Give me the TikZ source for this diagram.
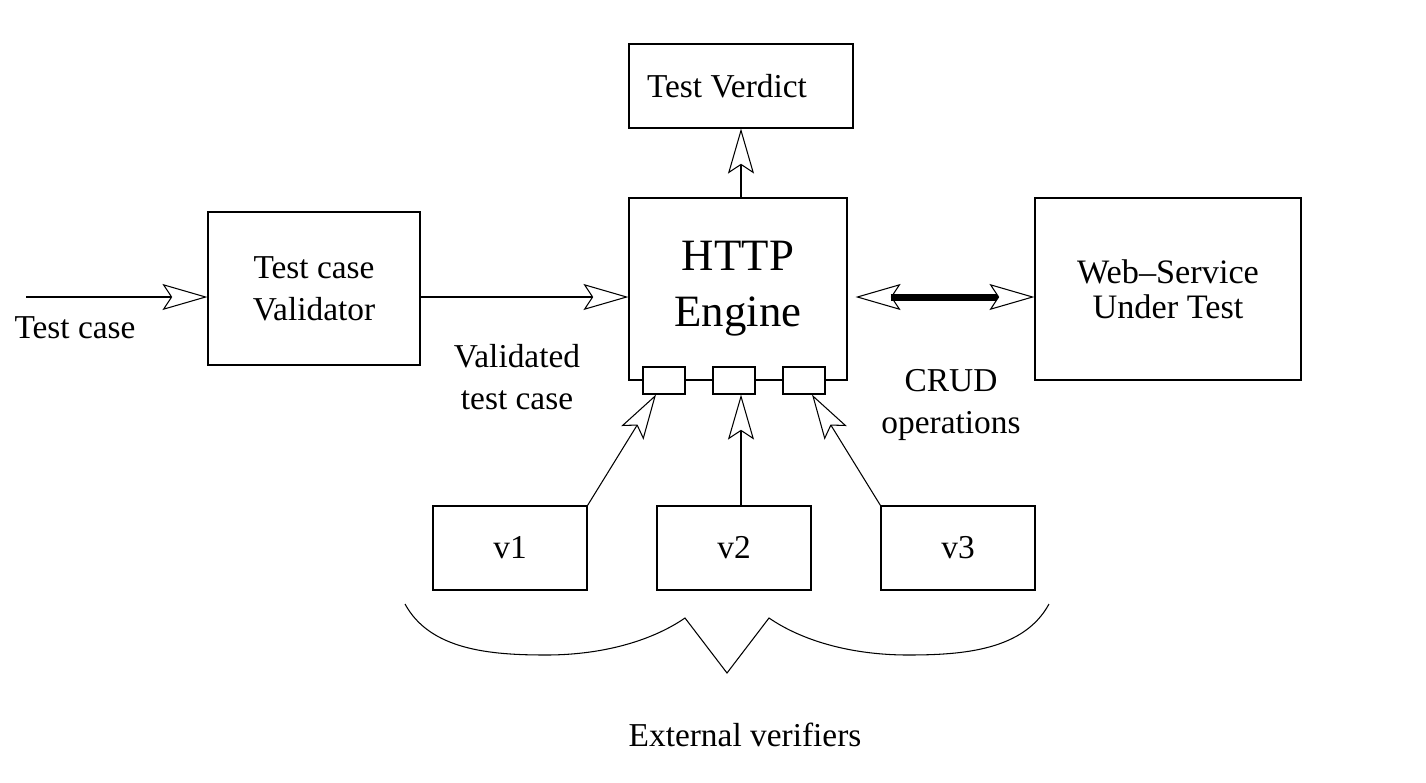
\documentclass[tikz,border=0pt]{standalone}
\usepackage{fontspec}
\setmainfont{Liberation Serif}
\usetikzlibrary{arrows.meta, positioning}

\tikzset{
  vtip/.tip={Stealth[open, length=0.9cm, width=0.52cm, inset=0.17cm]}
}

\begin{document}
\begin{tikzpicture}[font=\fontsize{19}{24}\selectfont, line width=0.6pt]
        \useasboundingbox (0,0) rectangle (28.52,-15.64);
        \begin{scope}[every node/.style={draw,rectangle,inner sep=0pt,align=center}]
          \node[minimum width=4.48cm, minimum height=1.68cm] (verdict) at (14.82,-1.72) {Test Verdict\hspace{0.56cm}};
          \node[minimum width=4.24cm, minimum height=3.06cm] (val) at (6.28,-5.77) {Test case\\Validator};
          \node[minimum width=4.36cm, minimum height=3.64cm, font=\fontsize{25.5}{32}\selectfont] (engine) at (14.76,-5.78) {HTTP\\Engine};
          \node[minimum width=5.32cm, minimum height=3.64cm, font=\fontsize{19.5}{20}\selectfont] (ws) at (23.36,-5.78) {Web–Service\\Under Test};
          \node[minimum width=0.84cm, minimum height=0.54cm, fill=white] (p1) at (13.28,-7.61) {};
          \node[minimum width=0.84cm, minimum height=0.54cm, fill=white] (p2) at (14.68,-7.61) {};
          \node[minimum width=0.84cm, minimum height=0.54cm, fill=white] (p3) at (16.08,-7.61) {};
          \node[minimum width=3.08cm, minimum height=1.68cm] (v1) at (10.2,-10.96) {v1};
          \node[minimum width=3.08cm, minimum height=1.68cm] (v2) at (14.68,-10.96) {v2};
          \node[minimum width=3.08cm, minimum height=1.68cm] (v3) at (19.16,-10.96) {v3};
        \end{scope}
        \begin{scope}[every node/.style={align=center}]
          \node (tc) at (1.5,-6.56) {Test case};
          \node (valtc) at (10.34,-7.54) {Validated\\test case};
          \node (crud) at (19.02,-8.1) {CRUD\\operations};
          \node (ext) at (14.9,-14.7) {External verifiers};
        \end{scope}
        \coordinate (tcin) at (0.52,-5.94);
        \begin{scope}[every edge/.style={draw=black,line width=0.6pt,-vtip}]
          \path (tcin) edge (tcin -| val.west);
          \path (val.east |- tcin) edge (engine.west |- tcin);
          \path (verdict.south |- engine.north) edge (verdict.south);
          \path (v1.north east) edge ([xshift=-0.16cm]p1.south);
          \path ([xshift=0.14cm]v2.north) edge ([xshift=0.14cm]p2.south);
          \path (v3.north west) edge ([xshift=0.16cm]p3.south);
          \path ([xshift=0.16cm]engine.east |- tcin) edge[vtip-vtip] (ws.west |- tcin);
          \path (engine.east |- tcin) edge[-, line width=0.14cm, shorten <=0.86cm, shorten >=0.74cm] (ws.west |- tcin);
        \end{scope}
        % brace under the verifiers
        \draw (8.1,-12.08) .. controls (8.6,-13.0) and (9.8,-13.1) .. (10.92,-13.1)
          .. controls (12.0,-13.1) and (13.0,-12.84) .. (13.7,-12.36)
          -- (14.54,-13.46) -- (15.38,-12.36)
          .. controls (16.08,-12.84) and (17.08,-13.1) .. (18.16,-13.1)
          .. controls (19.28,-13.1) and (20.48,-13.0) .. (20.98,-12.08);
      \end{tikzpicture}
\end{document}
